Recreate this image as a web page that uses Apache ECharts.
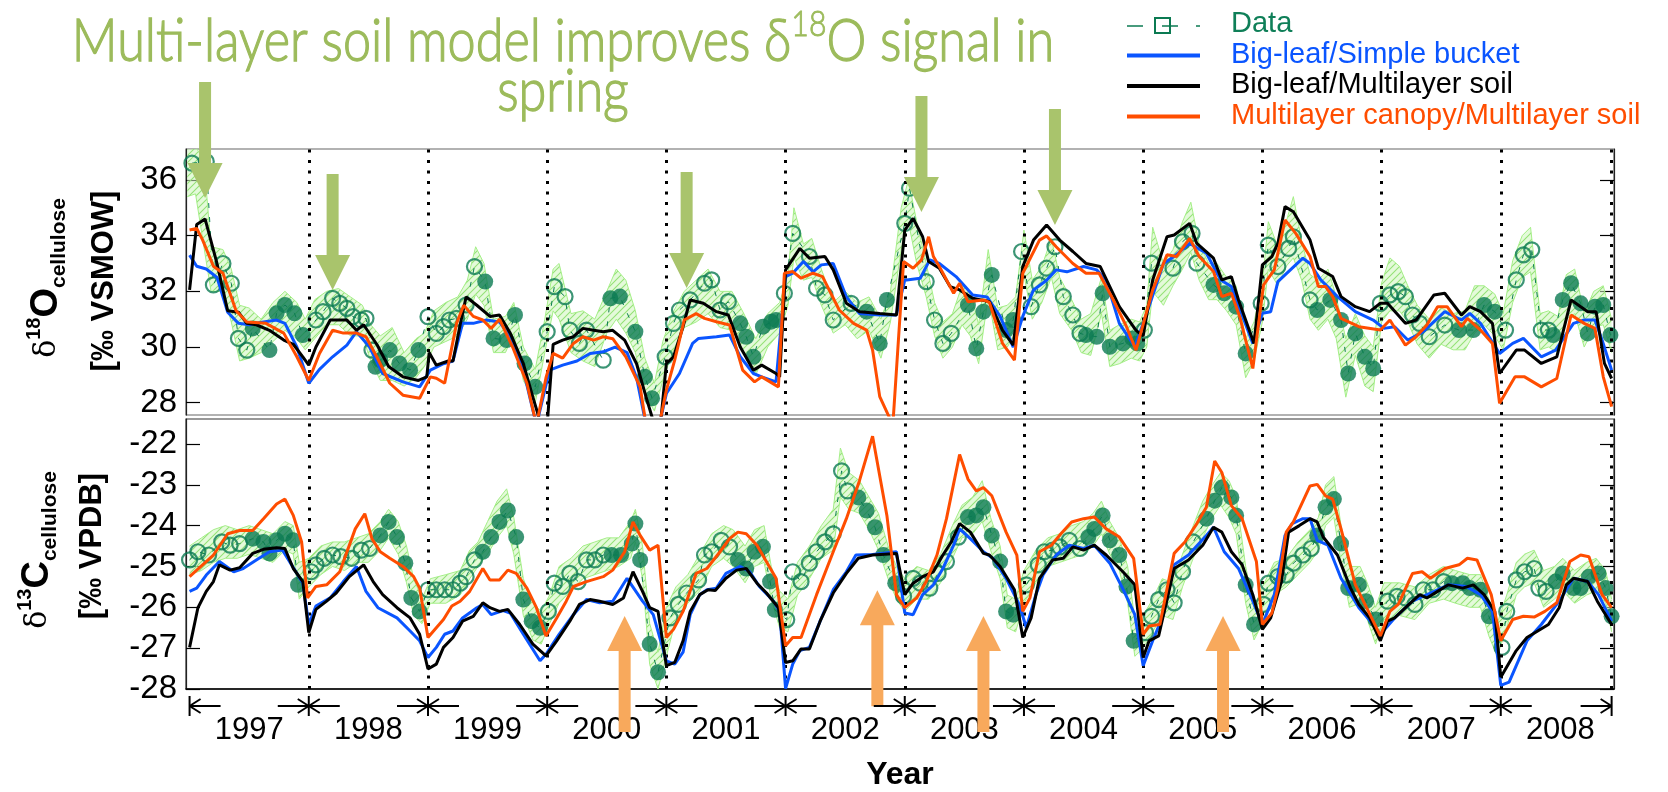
<!DOCTYPE html>
<html><head><meta charset="utf-8">
<script src="https://cdn.jsdelivr.net/npm/echarts@6/dist/echarts.min.js"></script>
<style>html,body{margin:0;padding:0;background:#fff}#c{width:1668px;height:792px}</style>
</head><body><div id="c"></div>
<script>
// ---------------- DATA ----------------
const XMIN = 1996.97, XMAX = 2008.95;
const O18_MIN = 27.56, O18_MAX = 37.11;
const C13_MIN = -28.0, C13_MAX = -21.39;
const o18Ticks = [28, 30, 32, 34, 36];
const c13Ticks = [-28, -27, -26, -25, -24, -23, -22];
const yearBoundaries = [1998, 1999, 2000, 2001, 2002, 2003, 2004, 2005, 2006, 2007, 2008, 2008.93];
const yearLabelPos = [1997.5, 1998.5, 1999.5, 2000.5, 2001.5, 2002.5, 2003.5, 2004.5, 2005.5, 2006.5, 2007.5, 2008.5];
const dimMarks = [[1997.0,0],[1998,1],[1999,1],[2000,1],[2001,1],[2002,1],[2003,1],[2004,1],[2005,1],[2006,1],[2007,1],[2008,1],[2008.93,2]];
const legendNames = ['Data', 'Big-leaf/Simple bucket', 'Big-leaf/Multilayer soil', 'Multilayer canopy/Multilayer soil'];
const greenArrowTips = [[1997.13,35.35],[1998.20,32.05],[2001.17,32.12],[2003.14,34.85],[2004.26,34.38]];
const orangeArrowTips = [[2000.65,-26.21],[2002.77,-25.58],[2003.66,-26.21],[2005.67,-26.21]];

// delta18O model lines
const o18Blue = [[1997.00,33.3],[1997.06,32.9],[1997.14,32.8],[1997.23,32.5],[1997.32,31.25],[1997.41,30.85],[1997.50,30.8],[1997.62,30.9],[1997.73,30.97],[1997.80,30.85],[1997.90,30.0],[1998.00,28.7],[1998.09,29.2],[1998.20,29.65],[1998.32,30.07],[1998.40,30.55],[1998.51,30.0],[1998.62,29.05],[1998.79,28.75],[1998.93,28.57],[1999.02,29.17],[1999.13,29.4],[1999.21,29.5],[1999.29,30.85],[1999.38,30.85],[1999.49,30.97],[1999.60,30.9],[1999.69,30.37],[1999.80,29.17],[1999.91,27.2],[2000.02,29.17],[2000.13,29.35],[2000.25,29.5],[2000.36,29.77],[2000.47,29.83],[2000.57,30.0],[2000.67,29.8],[2000.75,28.9],[2000.83,27.2],[2000.94,27.2],[2001.00,28.33],[2001.11,29.05],[2001.22,30.13],[2001.27,30.31],[2001.42,30.37],[2001.53,30.43],[2001.62,29.65],[2001.73,29.05],[2001.80,28.93],[2001.92,28.75],[2002.00,32.53],[2002.06,32.65],[2002.15,33.07],[2002.23,32.7],[2002.30,32.95],[2002.40,33.0],[2002.51,31.8],[2002.62,31.2],[2002.79,31.15],[2002.93,31.15],[2003.00,32.4],[2003.13,32.47],[2003.21,33.13],[2003.29,33.0],[2003.43,32.53],[2003.57,31.87],[2003.69,31.8],[2003.80,31.1],[2003.91,30.0],[2003.99,31.1],[2004.08,32.05],[2004.19,32.4],[2004.27,32.77],[2004.36,32.7],[2004.50,32.89],[2004.61,32.77],[2004.69,32.4],[2004.80,30.85],[2004.93,30.01],[2005.02,31.09],[2005.17,33.0],[2005.26,33.25],[2005.39,33.72],[2005.53,33.37],[2005.65,32.41],[2005.74,32.17],[2005.92,30.13],[2006.00,31.21],[2006.07,31.27],[2006.13,32.35],[2006.34,33.19],[2006.40,33.0],[2006.49,32.41],[2006.63,31.81],[2006.78,31.27],[2006.93,30.97],[2007.02,30.67],[2007.11,30.73],[2007.22,30.25],[2007.35,30.55],[2007.53,31.27],[2007.67,30.97],[2007.74,31.21],[2007.83,30.85],[2007.99,29.77],[2008.10,30.13],[2008.19,30.31],[2008.34,29.65],[2008.46,29.89],[2008.61,30.85],[2008.70,30.97],[2008.79,30.97],[2008.85,30.25],[2008.93,29.17]];
const o18Black = [[1997.00,32.05],[1997.06,34.4],[1997.13,34.6],[1997.23,33.0],[1997.32,31.3],[1997.41,31.25],[1997.48,30.85],[1997.56,30.8],[1997.67,30.6],[1997.79,30.25],[1997.87,30.1],[1997.95,29.65],[1998.00,29.35],[1998.06,30.0],[1998.18,30.97],[1998.32,30.97],[1998.40,30.6],[1998.46,30.8],[1998.57,30.1],[1998.67,29.3],[1998.79,28.93],[1998.92,28.8],[1998.99,28.93],[1999.01,29.8],[1999.07,29.35],[1999.17,29.5],[1999.21,29.5],[1999.27,30.8],[1999.32,31.8],[1999.41,31.5],[1999.52,31.1],[1999.60,31.15],[1999.69,30.5],[1999.80,29.4],[1999.88,28.2],[1999.95,27.2],[2000.00,27.2],[2000.05,30.1],[2000.13,30.25],[2000.22,30.37],[2000.30,30.67],[2000.39,30.6],[2000.47,30.55],[2000.55,30.6],[2000.65,30.25],[2000.75,29.4],[2000.83,28.2],[2000.90,27.2],[2000.95,27.2],[2001.00,29.41],[2001.06,29.65],[2001.14,30.73],[2001.20,31.69],[2001.31,31.57],[2001.42,31.27],[2001.52,31.15],[2001.62,30.0],[2001.73,29.17],[2001.80,29.35],[2001.92,29.05],[2001.95,28.93],[2002.00,32.77],[2002.12,33.54],[2002.20,33.19],[2002.33,33.25],[2002.40,32.77],[2002.51,31.57],[2002.62,31.27],[2002.79,31.2],[2002.93,31.15],[2003.00,34.2],[2003.07,34.62],[2003.15,33.96],[2003.20,33.07],[2003.29,32.83],[2003.38,32.17],[2003.46,32.05],[2003.57,31.75],[2003.71,31.63],[2003.82,30.6],[2003.91,30.07],[2003.99,32.89],[2004.08,33.84],[2004.19,34.38],[2004.30,33.84],[2004.41,33.43],[2004.52,33.0],[2004.64,32.89],[2004.80,31.45],[2004.94,30.6],[2005.00,30.4],[2005.08,32.41],[2005.20,33.96],[2005.26,34.02],[2005.39,34.44],[2005.45,33.72],[2005.59,33.19],[2005.66,32.41],[2005.74,32.53],[2005.80,31.69],[2005.93,30.13],[2006.00,32.95],[2006.08,33.25],[2006.13,33.72],[2006.19,35.04],[2006.26,34.86],[2006.40,33.84],[2006.47,32.83],[2006.59,32.53],[2006.66,31.81],[2006.78,31.45],[2006.90,31.27],[2006.99,31.57],[2007.05,31.57],[2007.20,30.85],[2007.29,30.97],[2007.44,31.87],[2007.53,31.93],[2007.67,31.15],[2007.74,31.45],[2007.83,31.27],[2007.93,30.85],[2007.99,29.05],[2008.13,29.89],[2008.20,29.89],[2008.34,29.41],[2008.47,29.65],[2008.59,31.69],[2008.73,31.27],[2008.80,31.27],[2008.87,29.41],[2008.93,28.87]];
const o18Orange = [[1997.00,34.2],[1997.06,34.26],[1997.11,33.84],[1997.20,32.9],[1997.28,32.65],[1997.39,31.3],[1997.48,30.9],[1997.64,30.85],[1997.79,30.5],[1997.90,29.65],[1998.00,28.8],[1998.09,29.77],[1998.20,30.6],[1998.29,30.5],[1998.40,30.5],[1998.48,30.37],[1998.57,29.65],[1998.68,28.7],[1998.79,28.27],[1998.93,28.16],[1999.02,28.93],[1999.07,28.88],[1999.14,28.7],[1999.24,30.85],[1999.30,31.5],[1999.38,31.1],[1999.46,30.97],[1999.53,30.67],[1999.60,31.0],[1999.71,30.0],[1999.83,28.7],[1999.91,27.2],[1999.99,28.9],[2000.05,29.77],[2000.13,29.6],[2000.22,30.13],[2000.30,30.37],[2000.39,30.25],[2000.47,30.37],[2000.55,30.3],[2000.66,29.65],[2000.78,28.57],[2000.83,27.2],[2000.94,27.2],[2001.00,28.45],[2001.07,29.53],[2001.15,30.97],[2001.25,31.2],[2001.32,31.03],[2001.42,30.91],[2001.53,30.79],[2001.64,29.17],[2001.74,28.75],[2001.80,28.93],[2001.94,28.57],[2001.99,32.65],[2002.06,32.71],[2002.13,32.47],[2002.23,32.65],[2002.31,32.53],[2002.45,31.33],[2002.57,30.85],[2002.68,30.61],[2002.73,29.89],[2002.79,28.22],[2002.90,27.2],[2002.99,33.07],[2003.07,32.83],[2003.14,33.13],[2003.20,33.96],[2003.24,33.25],[2003.29,32.89],[2003.41,31.93],[2003.46,32.29],[2003.53,31.63],[2003.66,31.69],[2003.71,31.6],[2003.82,30.13],[2003.92,29.53],[2003.99,32.65],[2004.06,33.25],[2004.13,33.84],[2004.19,33.99],[2004.27,33.6],[2004.41,33.0],[2004.52,32.65],[2004.63,32.65],[2004.75,31.69],[2004.86,30.73],[2004.94,29.89],[2005.08,32.05],[2005.20,33.31],[2005.28,33.25],[2005.39,33.9],[2005.47,33.25],[2005.59,32.71],[2005.66,31.81],[2005.74,31.93],[2005.81,31.09],[2005.92,29.23],[2006.01,32.23],[2006.10,32.77],[2006.19,34.56],[2006.28,34.08],[2006.40,33.25],[2006.47,32.17],[2006.53,32.17],[2006.59,31.81],[2006.66,31.03],[2006.81,30.73],[2006.99,30.61],[2007.07,30.97],[2007.20,30.07],[2007.29,30.37],[2007.38,30.79],[2007.47,31.45],[2007.55,31.45],[2007.67,30.73],[2007.72,31.03],[2007.83,30.61],[2007.93,30.13],[2007.99,27.98],[2008.12,28.93],[2008.20,28.93],[2008.34,28.57],[2008.47,28.87],[2008.59,31.15],[2008.70,30.85],[2008.79,30.67],[2008.86,28.93],[2008.93,27.86]];

// delta18O measurements
const o18Open = [[1997.02,36.6],[1997.14,36.66],[1997.20,32.23],[1997.28,33.0],[1997.35,32.29],[1997.41,30.31],[1997.48,29.89],[1998.06,30.97],[1998.12,31.27],[1998.20,31.75],[1998.26,31.57],[1998.32,31.39],[1998.37,31.09],[1998.44,30.97],[1998.48,31.03],[1998.53,29.89],[1999.00,31.09],[1999.07,30.49],[1999.13,30.73],[1999.18,30.97],[1999.24,31.03],[1999.32,31.51],[1999.39,32.89],[2000.00,30.55],[2000.06,32.17],[2000.15,31.81],[2000.19,30.61],[2000.27,30.13],[2000.33,30.61],[2000.47,29.53],[2000.99,29.65],[2001.06,30.85],[2001.11,31.33],[2001.20,31.69],[2001.32,32.29],[2001.38,32.41],[2001.45,31.33],[2001.52,31.63],[2001.99,31.93],[2002.06,34.08],[2002.20,33.25],[2002.26,32.11],[2002.33,31.87],[2002.40,30.97],[2002.55,31.57],[2003.00,34.44],[2003.04,35.7],[2003.18,32.35],[2003.25,30.97],[2003.32,30.13],[2003.39,30.49],[2003.98,33.43],[2004.06,31.45],[2004.13,32.23],[2004.19,32.83],[2004.26,33.6],[2004.33,31.81],[2004.41,31.15],[2004.47,30.49],[2005.01,30.61],[2005.07,33.01],[2005.25,32.83],[2005.33,33.78],[2005.41,34.08],[2005.45,33.01],[2005.99,31.57],[2006.05,33.66],[2006.13,32.89],[2006.22,33.54],[2006.26,33.96],[2006.40,31.69],[2006.99,31.57],[2007.07,31.87],[2007.14,31.99],[2007.20,31.81],[2007.26,31.15],[2007.32,30.85],[2007.40,30.37],[2007.53,30.79],[2008.04,30.61],[2008.13,32.41],[2008.19,33.31],[2008.26,33.49],[2008.34,30.61],[2008.40,30.61]];
const o18Filled = [[1997.53,30.67],[1997.67,29.89],[1997.73,31.21],[1997.80,31.51],[1997.88,31.21],[1997.95,30.43],[1998.56,29.29],[1998.60,29.53],[1998.68,29.89],[1998.76,29.41],[1998.85,29.17],[1998.92,29.89],[1999.48,32.35],[1999.55,30.31],[1999.66,30.25],[1999.73,31.15],[1999.81,29.41],[1999.90,28.57],[2000.53,31.75],[2000.61,31.81],[2000.74,30.55],[2000.82,28.93],[2000.88,28.16],[2001.62,30.85],[2001.67,30.37],[2001.73,29.65],[2001.81,30.73],[2001.88,30.91],[2001.92,30.97],[2002.68,31.27],[2002.79,30.13],[2002.85,31.69],[2003.53,31.51],[2003.60,29.95],[2003.66,31.27],[2003.73,32.59],[2003.85,30.61],[2003.91,30.97],[2004.52,30.43],[2004.61,30.37],[2004.66,31.93],[2004.72,30.01],[2004.83,30.13],[2004.91,30.31],[2004.95,30.13],[2005.59,32.23],[2005.68,31.93],[2005.78,31.45],[2005.86,29.77],[2006.46,31.33],[2006.57,31.69],[2006.66,30.97],[2006.72,29.05],[2006.78,30.49],[2006.86,29.65],[2006.93,29.23],[2007.65,30.61],[2007.77,30.61],[2007.86,31.51],[2007.95,31.27],[2008.44,30.43],[2008.52,31.69],[2008.59,32.29],[2008.67,31.57],[2008.73,30.49],[2008.79,31.45],[2008.86,31.51],[2008.92,30.43]];
// delta18O uncertainty range [year, low, high]
const o18Band = [[1996.98,35.4,37.2],[1997.05,35.5,37.2],[1997.12,33.6,36.7],[1997.18,32.0,33.6],[1997.28,32.0,33.5],[1997.35,30.9,32.8],[1997.42,29.5,31.5],[1997.50,29.6,31.4],[1997.60,29.8,31.0],[1997.70,30.2,31.6],[1997.80,30.6,32.0],[1997.90,30.3,31.6],[1997.97,29.9,31.0],[1998.05,30.3,31.7],[1998.15,30.8,32.0],[1998.25,30.8,32.1],[1998.35,30.4,31.8],[1998.45,30.4,31.5],[1998.52,29.5,30.8],[1998.60,28.8,30.4],[1998.70,28.8,30.7],[1998.80,28.6,29.8],[1998.90,28.9,30.3],[1998.97,29.3,30.5],[1999.05,30.0,31.3],[1999.15,30.2,31.6],[1999.25,30.4,31.8],[1999.33,31.0,32.4],[1999.40,31.9,33.6],[1999.47,31.5,33.0],[1999.55,29.8,31.0],[1999.65,29.8,31.1],[1999.72,30.5,31.6],[1999.80,28.8,30.0],[1999.90,28.0,29.2],[1999.98,29.8,31.0],[2000.05,31.3,32.8],[2000.10,31.0,33.0],[2000.20,29.8,31.2],[2000.30,29.5,31.3],[2000.40,29.3,31.0],[2000.50,30.5,32.0],[2000.58,31.0,32.8],[2000.66,30.5,32.4],[2000.74,29.8,31.3],[2000.82,28.3,29.6],[2000.90,27.7,28.7],[2000.97,28.8,30.2],[2001.05,29.8,31.2],[2001.15,30.7,32.0],[2001.25,30.9,32.4],[2001.35,31.2,32.8],[2001.45,30.7,32.0],[2001.55,30.6,32.0],[2001.65,29.8,31.2],[2001.75,29.0,30.3],[2001.85,30.0,31.2],[2001.95,30.5,31.6],[2002.02,31.5,32.6],[2002.07,33.2,35.0],[2002.15,32.4,33.7],[2002.22,32.5,33.9],[2002.30,31.5,32.8],[2002.40,30.5,31.6],[2002.50,30.8,32.0],[2002.60,30.3,31.6],[2002.70,30.6,31.8],[2002.80,29.6,31.0],[2002.88,30.9,32.0],[2002.97,33.5,35.0],[2003.03,34.5,36.0],[2003.10,33.0,34.5],[2003.18,31.8,33.0],[2003.25,30.4,31.6],[2003.32,29.6,30.9],[2003.40,30.0,31.2],[2003.48,30.8,32.2],[2003.55,30.4,32.0],[2003.62,29.4,30.8],[2003.70,31.8,33.5],[2003.78,29.9,31.4],[2003.86,30.0,31.5],[2003.93,30.5,31.8],[2004.00,32.6,34.2],[2004.07,31.0,32.4],[2004.15,31.6,32.9],[2004.23,32.5,33.9],[2004.30,31.2,32.5],[2004.40,30.6,31.7],[2004.48,29.8,31.0],[2004.56,29.7,31.2],[2004.65,31.2,32.5],[2004.72,29.3,30.6],[2004.80,29.4,30.8],[2004.90,29.6,31.0],[2004.97,29.5,30.9],[2005.03,30.0,31.5],[2005.08,32.0,34.3],[2005.17,31.5,33.0],[2005.25,32.2,33.5],[2005.33,32.8,34.5],[2005.40,33.4,35.2],[2005.47,32.4,33.7],[2005.55,31.7,33.0],[2005.62,31.7,33.0],[2005.70,31.3,32.5],[2005.78,30.8,32.2],[2005.86,28.9,30.3],[2005.93,29.5,30.9],[2006.00,30.9,32.3],[2006.05,32.8,34.5],[2006.13,32.2,33.6],[2006.20,32.9,34.5],[2006.26,33.2,35.4],[2006.33,32.4,33.8],[2006.40,31.0,32.6],[2006.47,30.6,32.4],[2006.55,31.0,32.8],[2006.62,30.3,31.8],[2006.70,28.2,30.3],[2006.78,29.7,31.2],[2006.86,28.6,30.4],[2006.93,28.4,30.0],[2007.00,30.9,32.3],[2007.07,31.3,33.2],[2007.15,31.3,32.9],[2007.22,30.9,32.2],[2007.30,30.1,31.5],[2007.40,29.6,31.0],[2007.50,30.1,31.4],[2007.60,29.9,31.2],[2007.70,29.9,31.3],[2007.78,30.5,32.2],[2007.86,30.8,32.2],[2007.95,30.4,31.9],[2008.02,29.9,31.2],[2008.10,31.6,33.1],[2008.18,32.5,34.0],[2008.25,32.7,34.3],[2008.33,29.9,31.2],[2008.40,30.0,31.3],[2008.48,29.8,31.1],[2008.55,31.0,32.6],[2008.62,31.2,32.8],[2008.70,30.0,31.2],[2008.78,30.7,32.0],[2008.86,30.8,32.2],[2008.93,29.8,31.0]];

// delta13C model lines
const c13Blue = [[1997.00,-25.61],[1997.06,-25.53],[1997.14,-25.21],[1997.25,-24.88],[1997.37,-25.13],[1997.45,-25.05],[1997.56,-24.84],[1997.67,-24.64],[1997.78,-24.6],[1997.90,-25.17],[1997.95,-25.41],[1998.00,-26.42],[1998.06,-25.97],[1998.18,-25.77],[1998.29,-25.37],[1998.40,-25.0],[1998.48,-25.61],[1998.58,-26.01],[1998.74,-26.26],[1998.85,-26.58],[1998.93,-26.82],[1999.00,-27.23],[1999.07,-26.98],[1999.14,-26.66],[1999.21,-26.58],[1999.29,-26.26],[1999.41,-26.01],[1999.46,-25.93],[1999.53,-26.18],[1999.63,-26.08],[1999.69,-26.14],[1999.80,-26.66],[1999.94,-27.31],[1999.99,-27.15],[2000.10,-26.66],[2000.22,-26.18],[2000.33,-25.81],[2000.44,-25.89],[2000.55,-25.85],[2000.67,-25.29],[2000.80,-25.85],[2000.89,-26.18],[2001.00,-27.31],[2001.07,-27.39],[2001.14,-27.1],[2001.20,-26.18],[2001.28,-25.69],[2001.34,-25.57],[2001.42,-25.53],[2001.50,-25.17],[2001.62,-25.0],[2001.70,-25.13],[2001.78,-25.49],[2001.90,-25.85],[2001.95,-26.1],[2002.00,-27.99],[2002.06,-27.39],[2002.12,-27.06],[2002.20,-26.98],[2002.29,-26.34],[2002.40,-25.57],[2002.51,-25.13],[2002.59,-24.72],[2002.73,-24.71],[2002.93,-24.64],[2003.00,-26.14],[2003.07,-26.18],[2003.15,-25.69],[2003.24,-25.45],[2003.32,-25.05],[2003.41,-24.48],[2003.46,-24.08],[2003.55,-24.32],[2003.66,-24.64],[2003.74,-24.8],[2003.85,-25.29],[2003.96,-25.93],[2004.02,-26.5],[2004.10,-25.69],[2004.16,-25.21],[2004.27,-24.72],[2004.38,-24.48],[2004.50,-24.56],[2004.59,-24.48],[2004.72,-24.92],[2004.84,-25.61],[2004.93,-26.18],[2005.00,-27.43],[2005.08,-26.82],[2005.17,-26.18],[2005.26,-24.96],[2005.38,-24.72],[2005.53,-24.24],[2005.59,-24.04],[2005.68,-24.64],[2005.80,-25.05],[2005.92,-25.85],[2006.00,-26.42],[2006.10,-25.69],[2006.19,-24.24],[2006.25,-23.95],[2006.34,-23.83],[2006.40,-23.83],[2006.46,-24.36],[2006.55,-24.48],[2006.66,-25.29],[2006.81,-26.01],[2006.93,-26.42],[2006.99,-26.66],[2007.11,-26.26],[2007.26,-25.85],[2007.41,-25.65],[2007.56,-25.45],[2007.71,-25.49],[2007.83,-25.69],[2007.93,-26.1],[2008.00,-27.91],[2008.07,-27.83],[2008.22,-26.82],[2008.34,-26.42],[2008.49,-25.85],[2008.61,-25.29],[2008.73,-25.37],[2008.82,-25.69],[2008.93,-26.34]];
const c13Black = [[1997.00,-26.98],[1997.07,-26.01],[1997.14,-25.61],[1997.20,-25.37],[1997.25,-24.96],[1997.34,-25.09],[1997.42,-25.03],[1997.53,-24.68],[1997.62,-24.58],[1997.73,-24.54],[1997.80,-24.56],[1997.87,-25.05],[1997.95,-25.37],[1998.00,-26.62],[1998.06,-26.05],[1998.15,-25.85],[1998.23,-25.65],[1998.34,-25.25],[1998.46,-24.96],[1998.54,-25.37],[1998.62,-25.69],[1998.74,-26.01],[1998.85,-26.26],[1998.93,-26.66],[1999.00,-27.51],[1999.07,-27.39],[1999.13,-26.98],[1999.21,-26.74],[1999.29,-26.34],[1999.38,-26.22],[1999.46,-25.89],[1999.52,-26.01],[1999.60,-26.1],[1999.67,-26.05],[1999.77,-26.42],[1999.88,-26.9],[1999.99,-27.19],[2000.08,-26.82],[2000.19,-26.34],[2000.27,-25.93],[2000.36,-25.81],[2000.44,-25.85],[2000.55,-25.93],[2000.64,-25.77],[2000.72,-25.13],[2000.80,-25.61],[2000.86,-26.01],[2000.93,-26.1],[2001.00,-27.43],[2001.07,-27.35],[2001.14,-26.82],[2001.20,-26.1],[2001.28,-25.69],[2001.35,-25.57],[2001.41,-25.59],[2001.50,-25.29],[2001.59,-25.09],[2001.67,-25.05],[2001.76,-25.41],[2001.84,-25.65],[2001.94,-26.01],[2002.00,-27.35],[2002.06,-27.31],[2002.13,-27.02],[2002.20,-27.02],[2002.29,-26.34],[2002.40,-25.65],[2002.51,-25.17],[2002.61,-24.8],[2002.73,-24.72],[2002.93,-24.68],[2003.00,-25.69],[2003.07,-25.41],[2003.15,-25.25],[2003.24,-25.13],[2003.32,-24.72],[2003.39,-24.4],[2003.46,-23.95],[2003.55,-24.16],[2003.66,-24.68],[2003.71,-24.72],[2003.80,-25.0],[2003.92,-25.57],[2003.99,-26.74],[2004.06,-26.26],[2004.13,-25.29],[2004.24,-24.84],[2004.33,-24.8],[2004.41,-24.52],[2004.50,-24.6],[2004.59,-24.48],[2004.69,-24.72],[2004.83,-25.13],[2004.93,-25.45],[2005.00,-27.23],[2005.05,-26.82],[2005.13,-26.7],[2005.26,-25.05],[2005.38,-24.84],[2005.50,-24.48],[2005.59,-24.04],[2005.66,-24.16],[2005.74,-24.64],[2005.83,-24.96],[2005.92,-25.69],[2006.00,-26.54],[2006.07,-26.26],[2006.16,-25.37],[2006.22,-24.16],[2006.31,-24.0],[2006.40,-23.83],[2006.46,-23.91],[2006.51,-24.28],[2006.63,-24.72],[2006.74,-25.53],[2006.81,-25.93],[2006.90,-26.26],[2006.99,-26.82],[2007.05,-26.34],[2007.11,-26.26],[2007.23,-25.93],[2007.32,-25.69],[2007.38,-25.77],[2007.47,-25.61],[2007.56,-25.45],[2007.68,-25.53],[2007.77,-25.45],[2007.86,-25.69],[2007.95,-26.1],[2008.00,-27.71],[2008.13,-27.06],[2008.22,-26.74],[2008.31,-26.58],[2008.40,-26.42],[2008.49,-26.01],[2008.55,-25.45],[2008.61,-25.29],[2008.73,-25.37],[2008.81,-25.85],[2008.93,-26.42]];
const c13Orange = [[1997.00,-25.25],[1997.06,-25.09],[1997.20,-24.72],[1997.32,-24.2],[1997.42,-24.12],[1997.53,-24.12],[1997.62,-23.83],[1997.73,-23.47],[1997.80,-23.35],[1997.87,-23.75],[1997.94,-24.4],[1997.99,-25.77],[1998.06,-25.49],[1998.15,-25.45],[1998.26,-25.13],[1998.39,-24.08],[1998.47,-23.71],[1998.53,-24.32],[1998.60,-24.64],[1998.68,-24.8],[1998.79,-25.0],[1998.88,-25.25],[1998.93,-25.53],[1999.00,-26.74],[1999.07,-26.5],[1999.13,-26.3],[1999.20,-25.97],[1999.27,-25.85],[1999.35,-25.61],[1999.46,-25.05],[1999.52,-25.33],[1999.60,-25.33],[1999.67,-25.09],[1999.74,-25.17],[1999.83,-25.53],[1999.91,-26.01],[1999.99,-26.7],[2000.08,-26.26],[2000.16,-25.85],[2000.22,-25.49],[2000.33,-25.37],[2000.47,-25.25],[2000.55,-25.09],[2000.65,-24.64],[2000.72,-23.91],[2000.78,-24.24],[2000.86,-24.6],[2000.93,-24.48],[2001.00,-26.74],[2001.06,-26.54],[2001.14,-26.1],[2001.25,-25.17],[2001.34,-25.05],[2001.45,-24.64],[2001.53,-24.32],[2001.60,-24.16],[2001.67,-24.2],[2001.76,-24.48],[2001.92,-25.29],[2002.00,-26.94],[2002.06,-26.74],[2002.13,-26.74],[2002.26,-25.69],[2002.40,-24.64],[2002.51,-23.83],[2002.62,-22.9],[2002.73,-21.81],[2002.85,-23.75],[2002.93,-25.69],[2003.00,-26.01],[2003.10,-25.77],[2003.18,-25.37],[2003.27,-24.72],[2003.35,-23.83],[2003.46,-22.26],[2003.53,-22.86],[2003.60,-23.15],[2003.66,-23.07],[2003.73,-23.27],[2003.85,-24.16],[2003.94,-24.72],[2003.99,-26.1],[2004.05,-25.77],[2004.13,-24.64],[2004.23,-24.48],[2004.31,-24.2],[2004.40,-23.91],[2004.50,-23.83],[2004.59,-23.79],[2004.69,-24.08],[2004.80,-24.28],[2004.92,-24.8],[2005.00,-26.66],[2005.05,-26.46],[2005.14,-26.42],[2005.26,-24.68],[2005.35,-24.4],[2005.45,-23.95],[2005.53,-23.55],[2005.60,-22.42],[2005.66,-22.7],[2005.74,-23.51],[2005.83,-23.83],[2005.95,-24.88],[2006.00,-26.42],[2006.08,-26.14],[2006.13,-25.53],[2006.20,-24.16],[2006.26,-23.91],[2006.40,-23.03],[2006.46,-22.99],[2006.53,-23.27],[2006.59,-23.35],[2006.66,-24.08],[2006.78,-25.45],[2006.93,-26.34],[2006.99,-26.7],[2007.07,-26.1],[2007.14,-25.93],[2007.26,-25.17],[2007.34,-25.13],[2007.41,-25.29],[2007.53,-25.05],[2007.65,-24.96],[2007.72,-24.8],[2007.80,-24.84],[2007.92,-25.69],[2008.00,-26.82],[2008.10,-26.3],[2008.19,-26.22],[2008.28,-26.24],[2008.37,-26.1],[2008.47,-25.89],[2008.58,-24.88],[2008.67,-24.72],[2008.74,-24.76],[2008.85,-25.69],[2008.93,-26.01]];

// delta13C measurements
const c13Open = [[1997.00,-24.84],[1997.07,-24.64],[1997.16,-24.72],[1997.27,-24.40],[1997.34,-24.48],[1997.42,-24.44],[1998.02,-25.13],[1998.06,-24.96],[1998.13,-24.80],[1998.20,-24.72],[1998.27,-24.76],[1998.36,-24.80],[1998.44,-24.60],[1998.51,-24.56],[1999.00,-25.57],[1999.07,-25.57],[1999.14,-25.57],[1999.21,-25.57],[1999.27,-25.41],[1999.32,-25.25],[1999.39,-24.84],[2000.01,-26.10],[2000.06,-25.41],[2000.13,-25.49],[2000.19,-25.17],[2000.26,-25.37],[2000.33,-24.84],[2000.40,-24.84],[2000.47,-24.72],[2001.03,-26.26],[2001.10,-25.93],[2001.17,-25.65],[2001.27,-25.33],[2001.32,-24.72],[2001.38,-24.64],[2001.46,-24.36],[2001.53,-24.52],[2002.01,-26.30],[2002.06,-25.13],[2002.13,-25.37],[2002.20,-24.92],[2002.26,-24.64],[2002.33,-24.40],[2002.40,-24.20],[2002.47,-22.66],[2002.52,-23.15],[2002.99,-25.73],[2003.07,-25.29],[2003.13,-25.41],[2003.21,-25.53],[2003.28,-25.17],[2003.35,-24.88],[2003.45,-24.28],[2004.02,-25.45],[2004.12,-24.96],[2004.17,-24.64],[2004.24,-24.60],[2004.30,-24.52],[2004.38,-24.36],[2004.47,-24.56],[2005.02,-26.62],[2005.07,-26.22],[2005.13,-25.81],[2005.20,-25.57],[2005.26,-25.89],[2005.33,-25.13],[2005.42,-24.40],[2006.01,-25.93],[2006.05,-25.41],[2006.13,-25.25],[2006.20,-25.21],[2006.26,-24.92],[2006.34,-24.72],[2006.41,-24.56],[2007.05,-25.85],[2007.13,-25.73],[2007.20,-25.77],[2007.28,-25.93],[2007.35,-25.57],[2007.43,-25.57],[2007.52,-25.37],[2008.01,-26.98],[2008.05,-26.10],[2008.13,-25.33],[2008.20,-25.13],[2008.28,-25.05],[2008.32,-25.53],[2008.38,-25.61]];
const c13Filled = [[1997.53,-24.32],[1997.62,-24.40],[1997.67,-24.68],[1997.73,-24.36],[1997.80,-24.20],[1997.87,-24.36],[1997.91,-25.45],[1998.60,-24.24],[1998.67,-23.91],[1998.74,-24.28],[1998.81,-24.92],[1998.86,-25.77],[1998.93,-26.10],[1999.46,-24.64],[1999.53,-24.28],[1999.60,-23.91],[1999.67,-23.63],[1999.74,-24.28],[1999.80,-25.81],[1999.87,-26.34],[1999.94,-26.50],[2000.54,-24.72],[2000.62,-24.72],[2000.71,-24.44],[2000.74,-23.95],[2000.78,-24.84],[2000.86,-26.90],[2000.93,-27.59],[2001.60,-24.84],[2001.67,-25.05],[2001.74,-24.64],[2001.81,-24.52],[2001.87,-25.37],[2001.91,-26.06],[2002.61,-23.31],[2002.68,-23.63],[2002.75,-24.04],[2002.82,-24.72],[2002.92,-25.41],[2003.53,-23.79],[2003.60,-23.75],[2003.66,-23.55],[2003.73,-24.24],[2003.80,-24.88],[2003.85,-26.10],[2003.91,-26.18],[2004.54,-24.28],[2004.59,-24.08],[2004.66,-23.75],[2004.72,-24.36],[2004.80,-24.72],[2004.86,-25.49],[2004.92,-26.82],[2005.53,-23.83],[2005.60,-23.39],[2005.66,-23.07],[2005.74,-23.31],[2005.78,-23.75],[2005.86,-25.45],[2005.93,-26.42],[2006.46,-24.24],[2006.53,-23.55],[2006.60,-23.35],[2006.66,-24.44],[2006.72,-25.53],[2006.81,-25.45],[2006.87,-25.85],[2006.95,-26.30],[2007.59,-25.41],[2007.68,-25.41],[2007.74,-25.53],[2007.83,-25.57],[2007.90,-26.22],[2008.46,-25.37],[2008.52,-25.17],[2008.61,-25.53],[2008.67,-25.53],[2008.74,-25.25],[2008.82,-25.17],[2008.88,-25.53],[2008.93,-26.22]];
const c13Band = [[1997.00,-25.2,-24.5],[1997.10,-25.1,-24.3],[1997.20,-24.9,-24.1],[1997.30,-24.8,-24.0],[1997.40,-24.8,-24.1],[1997.50,-24.7,-24.0],[1997.60,-24.8,-24.1],[1997.70,-24.9,-24.2],[1997.80,-24.6,-23.9],[1997.87,-24.7,-24.0],[1997.92,-25.8,-24.9],[1998.00,-25.5,-24.8],[1998.10,-25.2,-24.5],[1998.20,-25.0,-24.4],[1998.30,-25.1,-24.4],[1998.40,-24.9,-24.3],[1998.50,-24.9,-24.2],[1998.60,-24.6,-23.9],[1998.67,-24.3,-23.6],[1998.75,-24.7,-23.9],[1998.82,-25.4,-24.5],[1998.88,-26.2,-25.3],[1998.95,-26.4,-25.8],[1999.02,-25.9,-25.3],[1999.15,-25.9,-25.2],[1999.27,-25.7,-25.1],[1999.35,-25.3,-24.6],[1999.42,-25.0,-24.4],[1999.50,-24.7,-23.9],[1999.58,-24.3,-23.4],[1999.66,-24.0,-23.1],[1999.72,-24.7,-23.8],[1999.80,-26.2,-25.3],[1999.88,-26.8,-25.9],[1999.95,-26.9,-26.1],[2000.02,-26.4,-25.7],[2000.10,-25.9,-25.0],[2000.20,-25.6,-24.8],[2000.30,-25.3,-24.5],[2000.40,-25.2,-24.4],[2000.50,-25.1,-24.3],[2000.60,-25.0,-24.3],[2000.70,-24.8,-23.9],[2000.74,-24.4,-23.6],[2000.80,-25.3,-24.5],[2000.86,-27.4,-26.4],[2000.93,-28.0,-27.1],[2001.00,-27.2,-26.0],[2001.08,-26.3,-25.5],[2001.18,-25.9,-25.2],[2001.28,-25.6,-24.7],[2001.38,-25.0,-24.2],[2001.48,-24.8,-24.0],[2001.56,-25.0,-24.1],[2001.66,-25.4,-24.5],[2001.74,-25.0,-24.1],[2001.82,-24.9,-24.0],[2001.88,-25.8,-25.0],[2001.95,-26.5,-25.6],[2002.02,-26.6,-25.8],[2002.10,-25.7,-24.9],[2002.20,-25.3,-24.5],[2002.30,-24.8,-24.0],[2002.40,-24.6,-23.6],[2002.46,-23.3,-22.1],[2002.53,-23.6,-22.7],[2002.62,-23.7,-22.9],[2002.70,-24.1,-23.3],[2002.78,-24.6,-23.7],[2002.86,-25.3,-24.5],[2002.93,-25.8,-25.0],[2003.00,-26.1,-25.3],[2003.10,-25.8,-25.0],[2003.20,-25.8,-25.1],[2003.30,-25.4,-24.7],[2003.40,-24.8,-24.0],[2003.48,-24.3,-23.5],[2003.57,-24.2,-23.3],[2003.65,-23.9,-22.9],[2003.72,-24.6,-23.8],[2003.80,-25.3,-24.5],[2003.86,-26.5,-25.7],[2003.93,-26.6,-25.8],[2004.00,-25.9,-25.1],[2004.10,-25.4,-24.6],[2004.20,-25.0,-24.3],[2004.30,-24.9,-24.2],[2004.40,-24.8,-24.0],[2004.50,-24.7,-23.9],[2004.58,-24.5,-23.7],[2004.65,-24.2,-23.4],[2004.72,-24.7,-23.9],[2004.80,-25.1,-24.3],[2004.87,-25.9,-25.0],[2004.93,-27.2,-26.3],[2005.00,-27.0,-26.2],[2005.08,-26.6,-25.8],[2005.16,-26.2,-25.3],[2005.25,-26.3,-25.4],[2005.33,-25.5,-24.7],[2005.42,-24.8,-24.0],[2005.50,-24.3,-23.4],[2005.58,-23.8,-23.0],[2005.65,-23.5,-22.7],[2005.72,-23.8,-22.9],[2005.78,-24.2,-23.3],[2005.86,-25.9,-25.0],[2005.93,-26.8,-26.0],[2006.00,-26.4,-25.5],[2006.10,-25.7,-24.9],[2006.20,-25.5,-24.8],[2006.30,-25.2,-24.4],[2006.40,-24.9,-24.1],[2006.47,-24.6,-23.8],[2006.53,-24.0,-23.0],[2006.60,-23.8,-22.8],[2006.66,-24.9,-24.0],[2006.73,-26.0,-25.0],[2006.82,-25.9,-25.0],[2006.88,-26.3,-25.4],[2006.95,-26.9,-26.0],[2007.02,-26.3,-25.4],[2007.15,-26.2,-25.4],[2007.28,-26.3,-25.5],[2007.40,-25.9,-25.2],[2007.52,-25.8,-25.0],[2007.62,-25.9,-25.1],[2007.74,-26.0,-25.2],[2007.83,-26.0,-25.2],[2007.90,-26.7,-25.8],[2007.97,-27.2,-26.4],[2008.05,-26.5,-25.7],[2008.13,-25.7,-24.9],[2008.20,-25.5,-24.7],[2008.28,-25.4,-24.6],[2008.36,-26.0,-25.1],[2008.45,-25.8,-25.0],[2008.52,-25.6,-24.8],[2008.62,-25.9,-25.1],[2008.72,-25.7,-24.9],[2008.80,-25.6,-24.8],[2008.88,-25.9,-25.1],[2008.93,-26.6,-25.8]];

// ---------------- STYLE ----------------
const FONT = "'Liberation Sans', Arial, Helvetica, sans-serif";
const C_BLUE = '#0a55ff', C_BLACK = '#000000', C_ORANGE = '#ff4d00', C_DATA = '#0b7a52', C_DATA_TXT = '#0f7f58';
const C_EDGE = '#a5ef88', C_GREEN_ARROW = '#a9c46c', C_ORANGE_ARROW = '#f8a95c', C_TITLE = '#9cbb5b';

function hatchCanvas() {
  const c = document.createElement('canvas'); c.width = 7; c.height = 7;
  const g = c.getContext('2d');
  g.fillStyle = 'rgba(205,246,188,0.55)'; g.fillRect(0, 0, 7, 7);
  g.strokeStyle = '#94e277'; g.lineWidth = 1.1;
  g.beginPath(); g.moveTo(-1, 8); g.lineTo(8, -1); g.stroke();
  g.beginPath(); g.moveTo(-1, 1); g.lineTo(1, -1); g.stroke();
  g.beginPath(); g.moveTo(6, 8); g.lineTo(8, 6); g.stroke();
  return c;
}
const HATCH = { image: hatchCanvas(), repeat: 'repeat' };

function sortByX(a) { return a.slice().sort((p, q) => p[0] - q[0]); }

function bandRender(band) {
  return function (params, api) {
    if (params.dataIndex !== 0) return null;
    const top = band.map(r => api.coord([r[0], r[2]]));
    const bot = band.map(r => api.coord([r[0], r[1]])).reverse();
    return { type: 'polygon', shape: { points: top.concat(bot) }, style: { fill: HATCH } };
  };
}
function arrowRender(down, color) {
  return function (params, api) {
    const p = api.coord([api.value(0), api.value(1)]);
    const s = down ? -1 : 1, L = 116, HW = 17.5, HL = 35, SW = 6;
    const x = p[0], y = p[1];
    const pts = [[x, y], [x - HW, y + s * HL], [x - SW, y + s * HL], [x - SW, y + s * L], [x + SW, y + s * L], [x + SW, y + s * HL], [x + HW, y + s * HL]];
    return { type: 'polygon', shape: { points: pts }, style: { fill: color } };
  };
}
function dimRender(params, api) {
  const x = api.value(0), kind = api.value(1);
  const p = api.coord([x, C13_MIN]);
  const cx = p[0], cy = p[1] + 17;
  const st = { stroke: '#000', lineWidth: 2 };
  const ln = (a, b, c, d) => ({ type: 'line', shape: { x1: a, y1: b, x2: c, y2: d }, style: st });
  const ch = [ln(cx, cy - 10, cx, cy + 10)];
  if (kind !== 0) { ch.push(ln(cx - 31, cy, cx, cy), ln(cx, cy, cx - 11, cy - 7), ln(cx, cy, cx - 11, cy + 7)); }
  if (kind !== 2) { ch.push(ln(cx, cy, cx + 31, cy), ln(cx, cy, cx + 11, cy - 7), ln(cx, cy, cx + 11, cy + 7)); }
  return { type: 'group', children: ch };
}

const dottedYears = {
  silent: true, symbol: ['none', 'none'], label: { show: false }, animation: false,
  lineStyle: { color: '#000', width: 3, type: [3, 7.5] },
  data: yearBoundaries.map(v => ({ xAxis: v }))
};

function panelSeries(xi, yi, band, open, filled, blue, black, orange) {
  return [
    { type: 'custom', xAxisIndex: xi, yAxisIndex: yi, data: band, renderItem: bandRender(band), clip: true, z: 1, silent: true, encode: { x: 0, y: [1, 2] } },
    { type: 'line', xAxisIndex: xi, yAxisIndex: yi, data: band.map(r => [r[0], r[1]]), symbol: 'none', lineStyle: { color: C_EDGE, width: 1 }, z: 2, silent: true, markLine: dottedYears },
    { type: 'line', xAxisIndex: xi, yAxisIndex: yi, data: band.map(r => [r[0], r[2]]), symbol: 'none', lineStyle: { color: C_EDGE, width: 1 }, z: 2, silent: true },
    { type: 'line', xAxisIndex: xi, yAxisIndex: yi, data: sortByX(open.concat(filled)), symbol: 'none', lineStyle: { color: C_DATA, width: 1, type: [5, 9] }, z: 3, silent: true },
    { type: 'scatter', xAxisIndex: xi, yAxisIndex: yi, data: open, symbol: 'circle', symbolSize: 15, itemStyle: { color: 'rgba(255,255,255,0)', borderColor: C_DATA, borderWidth: 2.2 }, z: 4, silent: true },
    { type: 'scatter', xAxisIndex: xi, yAxisIndex: yi, data: filled, symbol: 'circle', symbolSize: 16, itemStyle: { color: C_DATA }, z: 4, silent: true },
    { type: 'line', name: 'Big-leaf/Simple bucket', xAxisIndex: xi, yAxisIndex: yi, data: blue, symbol: 'none', lineStyle: { color: C_BLUE, width: 3 }, z: 5, silent: true },
    { type: 'line', name: 'Big-leaf/Multilayer soil', xAxisIndex: xi, yAxisIndex: yi, data: black, symbol: 'none', lineStyle: { color: C_BLACK, width: 3 }, z: 6, silent: true },
    { type: 'line', name: 'Multilayer canopy/Multilayer soil', xAxisIndex: xi, yAxisIndex: yi, data: orange, symbol: 'none', lineStyle: { color: C_ORANGE, width: 3 }, z: 7, silent: true }
  ];
}

// ---------------- TEXT / GRAPHIC ----------------
const TWEIGHT = 300;
function titleFontSize() {
  const g = document.createElement('canvas').getContext('2d');
  g.font = TWEIGHT + ' 46px Lato';
  const w = g.measureText('Multi-layer soil model improves δ').width + g.measureText('O signal in').width;
  g.font = TWEIGHT + ' 28px Lato';
  const w2 = g.measureText('18').width;
  return 46 * 983 / (w + w2);
}
const TSTRETCH = 1.18;
const TFS = titleFontSize() * TSTRETCH;
const TSTROKE = 1.3;

const graphics = [];
// title (taller, condensed face like the original)
graphics.push({
  type: 'text', x: 563, y: 42, z: 20, silent: true, scaleX: 1 / TSTRETCH,
  style: {
    text: '{a|Multi-layer soil model improves δ}{s|18}{a|O signal in}', align: 'center', verticalAlign: 'middle',
    rich: {
      a: { fontFamily: 'Lato', fontWeight: TWEIGHT, fontSize: TFS, fill: C_TITLE, stroke: C_TITLE, lineWidth: TSTROKE, lineHeight: TFS * 1.2 },
      s: { fontFamily: 'Lato', fontWeight: TWEIGHT, fontSize: TFS * 0.6, fill: C_TITLE, stroke: C_TITLE, lineWidth: TSTROKE * 0.7, verticalAlign: 'top', lineHeight: TFS * 0.75 }
    }
  }
});
graphics.push({ type: 'text', x: 563, y: 92, z: 20, silent: true, scaleX: 1 / TSTRETCH,
  style: { text: 'spring', fontFamily: 'Lato', fontWeight: TWEIGHT, fontSize: TFS, fill: C_TITLE, stroke: C_TITLE, lineWidth: TSTROKE, align: 'center', verticalAlign: 'middle' } });

// legend
const legendColors = [C_DATA_TXT, C_BLUE, C_BLACK, C_ORANGE];
legendNames.forEach((nm, i) => {
  const y = 24 + i * 30.5;
  graphics.push({ type: 'text', x: 1231, y: y, z: 20, silent: true,
    style: { text: nm, fontFamily: FONT, fontSize: 29, fill: legendColors[i], align: 'left', verticalAlign: 'middle' } });
  if (i === 0) {
    const st = { stroke: C_DATA, lineWidth: 1.5 };
    graphics.push({ type: 'line', z: 20, silent: true, shape: { x1: 1127, y1: y + 2, x2: 1143, y2: y + 2 }, style: st });
    graphics.push({ type: 'rect', z: 20, silent: true, shape: { x: 1155, y: y - 6, width: 15, height: 15 }, style: { fill: 'none', stroke: C_DATA, lineWidth: 2 } });
    graphics.push({ type: 'line', z: 20, silent: true, shape: { x1: 1162, y1: y + 2, x2: 1178, y2: y + 2 }, style: st });
    graphics.push({ type: 'line', z: 20, silent: true, shape: { x1: 1196, y1: y + 2, x2: 1200, y2: y + 2 }, style: st });
  } else {
    graphics.push({ type: 'line', z: 20, silent: true, shape: { x1: 1127, y1: y + 1, x2: 1200, y2: y + 1 }, style: { stroke: legendColors[i], lineWidth: 4 } });
  }
});

// y axis titles
function yTitle(x, y, sup, big, sub) {
  return {
    type: 'text', x: x, y: y, rotation: Math.PI / 2, z: 20, silent: true,
    style: {
      text: '{d|δ}{s|' + sup + '}{b|' + big + '}{c|' + sub + '}', align: 'center', verticalAlign: 'middle',
      rich: {
        d: { fontFamily: "'DejaVu Serif', serif", fontSize: 30, fill: '#000', lineHeight: 46 },
        s: { fontFamily: FONT, fontWeight: 'bold', fontSize: 20, fill: '#000', verticalAlign: 'top', lineHeight: 26 },
        b: { fontFamily: FONT, fontWeight: 'bold', fontSize: 38, fill: '#000', lineHeight: 46 },
        c: { fontFamily: FONT, fontWeight: 'bold', fontSize: 21, fill: '#000', verticalAlign: 'bottom', lineHeight: 24 }
      }
    }
  };
}
function yUnit(x, y, txt) {
  return { type: 'text', x: x, y: y, rotation: Math.PI / 2, z: 20, silent: true,
    style: { text: txt, fontFamily: FONT, fontWeight: 'bold', fontSize: 31, fill: '#000', align: 'center', verticalAlign: 'middle' } };
}
graphics.push(yTitle(47, 278, '18', 'O', 'cellulose'));
graphics.push(yUnit(104, 281, '[‰ VSMOW]'));
graphics.push(yTitle(38, 550, '13', 'C', 'cellulose'));
graphics.push(yUnit(92, 546, '[‰ VPDB]'));

// ---------------- AXES ----------------
const GRID_L = 186, GRID_W = 1428;
function yAx(grid, min, max, ticks, right) {
  return {
    type: 'value', gridIndex: grid, min: min, max: max, position: right ? 'right' : 'left',
    axisLine: { show: true, onZero: false, lineStyle: { color: '#222', width: 1.2 } },
    axisTick: { show: true, inside: true, length: 14, customValues: ticks, lineStyle: { color: '#000', width: 1.2 } },
    axisLabel: right ? { show: false } : { show: true, customValues: ticks, fontFamily: FONT, fontSize: 33, color: '#000', margin: 9 },
    splitLine: { show: false }
  };
}
const option = {
  animation: false,
  backgroundColor: '#fff',
  grid: [
    { left: GRID_L, top: 149, width: GRID_W, height: 266, show: true, borderColor: '#666', borderWidth: 1.2, backgroundColor: 'transparent' },
    { left: GRID_L, top: 419, width: GRID_W, height: 273, show: true, borderColor: '#333', borderWidth: 1.2, backgroundColor: 'transparent' }
  ],
  xAxis: [
    { type: 'value', gridIndex: 0, min: XMIN, max: XMAX, axisLine: { show: false }, axisTick: { show: false }, axisLabel: { show: false }, splitLine: { show: false } },
    { type: 'value', gridIndex: 1, min: XMIN, max: XMAX,
      axisLine: { show: true, onZero: false, lineStyle: { color: '#000', width: 1.5 } }, axisTick: { show: false },
      axisLabel: { show: true, customValues: yearLabelPos, formatter: v => String(Math.floor(v)), fontFamily: FONT, fontSize: 31, color: '#000', margin: 26 },
      splitLine: { show: false },
      name: 'Year', nameLocation: 'middle', nameGap: 70,
      nameTextStyle: { fontFamily: FONT, fontWeight: 'bold', fontSize: 32, color: '#000' } }
  ],
  yAxis: [
    yAx(0, O18_MIN, O18_MAX, o18Ticks, false),
    yAx(0, O18_MIN, O18_MAX, o18Ticks, true),
    yAx(1, C13_MIN, C13_MAX, c13Ticks, false),
    yAx(1, C13_MIN, C13_MAX, c13Ticks, true)
  ],
  graphic: graphics,
  series: [].concat(
    panelSeries(0, 0, o18Band, o18Open, o18Filled, o18Blue, o18Black, o18Orange),
    panelSeries(1, 2, c13Band, c13Open, c13Filled, c13Blue, c13Black, c13Orange),
    [
      { type: 'custom', xAxisIndex: 0, yAxisIndex: 0, data: greenArrowTips, renderItem: arrowRender(true, C_GREEN_ARROW), clip: false, z: 10, silent: true },
      { type: 'custom', xAxisIndex: 1, yAxisIndex: 2, data: orangeArrowTips, renderItem: arrowRender(false, C_ORANGE_ARROW), clip: false, z: 10, silent: true },
      { type: 'custom', xAxisIndex: 1, yAxisIndex: 2, data: dimMarks, renderItem: dimRender, clip: false, z: 10, silent: true }
    ]
  )
};
const chart = echarts.init(document.getElementById('c'), null, { renderer: 'canvas' });
chart.setOption(option);
</script></body></html>
